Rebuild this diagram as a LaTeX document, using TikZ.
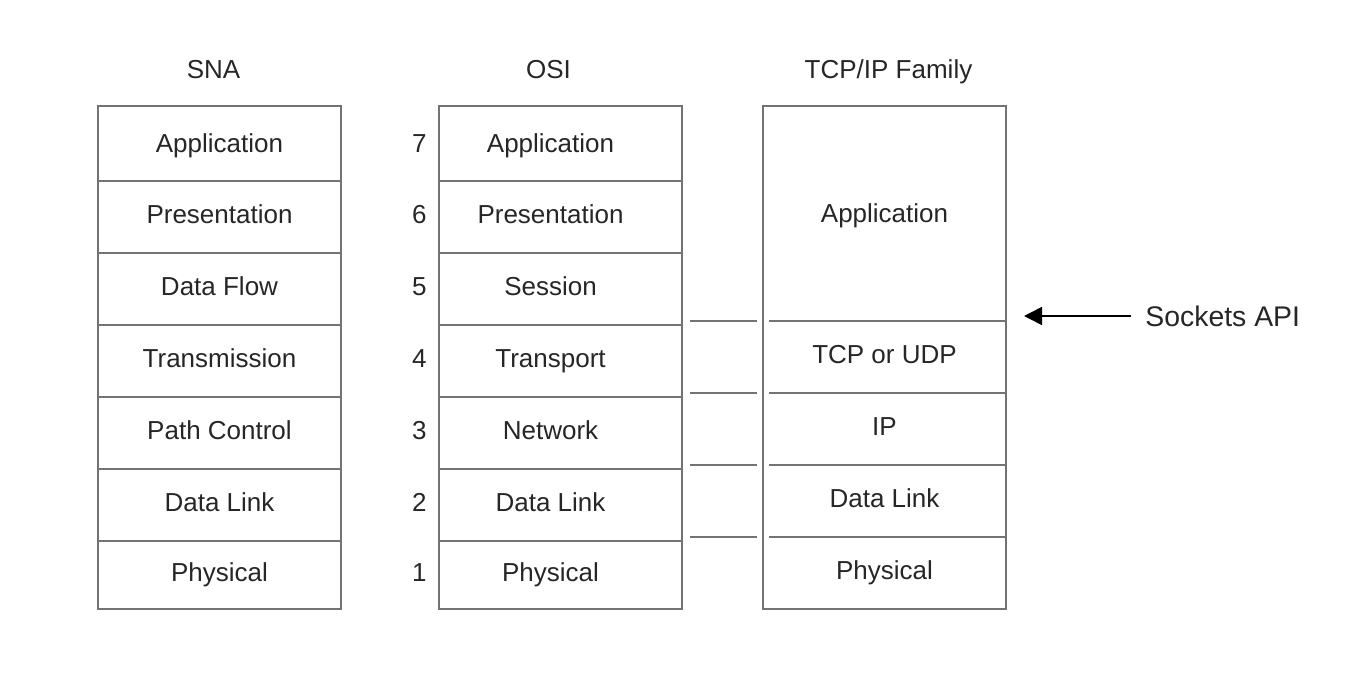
\documentclass[tikz,border=0pt]{standalone}
\usepackage{fontspec}
\setmainfont{Liberation Sans}
\usetikzlibrary{positioning,arrows.meta}

\tikzset{
  txt/.style={text=black!85,font=\fontsize{13pt}{15pt}\selectfont},
  layer/.style={txt,draw=black!55,line width=1pt,minimum width=121.5pt,minimum height=36pt,
    inner sep=0pt,outer sep=0pt,text height=9.4pt,text depth=3pt},
  toplayer/.style={text depth=0pt},
  osilayer/.style={layer,execute at begin node={\hspace*{-10pt}}},
  tcplayer/.style={layer,draw=none},
  frame/.style={draw=black!55,line width=1pt},
  num/.style={txt,inner sep=0pt,text height=9.4pt,text depth=3pt},
  title/.style={txt,inner sep=0pt}
}

\begin{document}
\begin{tikzpicture}[node distance=0pt]
    \useasboundingbox (0,0) rectangle (684.5pt,-337.5pt);

    % SNA
    \node[layer,toplayer,minimum height=37.5pt,anchor=north west] (s1) at (49pt,-53pt) {Application};
    \node[layer,below=of s1] (s2) {Presentation};
    \node[layer,below=of s2] (s3) {Data Flow};
    \node[layer,below=of s3] (s4) {Transmission};
    \node[layer,below=of s4] (s5) {Path Control};
    \node[layer,below=of s5] (s6) {Data Link};
    \node[layer,minimum height=34pt,below=of s6] (s7) {Physical};

    % OSI
    \node[osilayer,toplayer,minimum height=37.5pt,anchor=north west] (o7) at (219.5pt,-53pt) {Application};
    \node[osilayer,below=of o7] (o6) {Presentation};
    \node[osilayer,below=of o6] (o5) {Session};
    \node[osilayer,below=of o5] (o4) {Transport};
    \node[osilayer,below=of o4] (o3) {Network};
    \node[osilayer,below=of o3] (o2) {Data Link};
    \node[osilayer,minimum height=34pt,below=of o2] (o1) {Physical};

    \node[num,toplayer,left=6pt of o7] {7};
    \node[num,left=6pt of o6] {6};
    \node[num,left=6pt of o5] {5};
    \node[num,left=6pt of o4] {4};
    \node[num,left=6pt of o3] {3};
    \node[num,left=6pt of o2] {2};
    \node[num,left=6pt of o1] {1};

    % TCP/IP
    \node[tcplayer,toplayer,minimum height=107.5pt,anchor=north west] (tapp) at (381.5pt,-53pt) {Application};
    \node[tcplayer,below=of tapp] (ttrans) {TCP or UDP};
    \node[tcplayer,below=of ttrans] (tnet) {IP};
    \node[tcplayer,below=of tnet] (tlink) {Data Link};
    \node[tcplayer,below=of tlink] (tphys) {Physical};

    \draw[frame] (tapp.north west) rectangle (tphys.south east);
    \foreach \t in {ttrans,tnet,tlink,tphys} {
        \draw[frame] ([xshift=3pt]\t.north west) -- (\t.north east);
        \draw[frame] ([xshift=4pt]o1.east |- \t.north) -- ([xshift=-3pt]\t.north west);
    }

    \node[title,above=14pt of s1,anchor=base,xshift=-3pt] (sna) {SNA};
    \node[title,above=14pt of o7,anchor=base,xshift=-6pt] (osi) {OSI};
    \node[title,above=14pt of tapp,anchor=base,xshift=2pt] (tcpip) {TCP/IP Family};

    \node[txt,font=\fontsize{14.2pt}{16pt}\selectfont,inner sep=0pt,anchor=west] (api)
        at ([xshift=69.5pt,yshift=2.5pt]ttrans.north east) {Sockets API};
    \draw[-{Triangle[length=9pt,width=9pt]},line width=0.8pt,shorten <=7pt,shorten >=9pt]
        (api.west) -- (api.west -| ttrans.east);
\end{tikzpicture}
\end{document}
